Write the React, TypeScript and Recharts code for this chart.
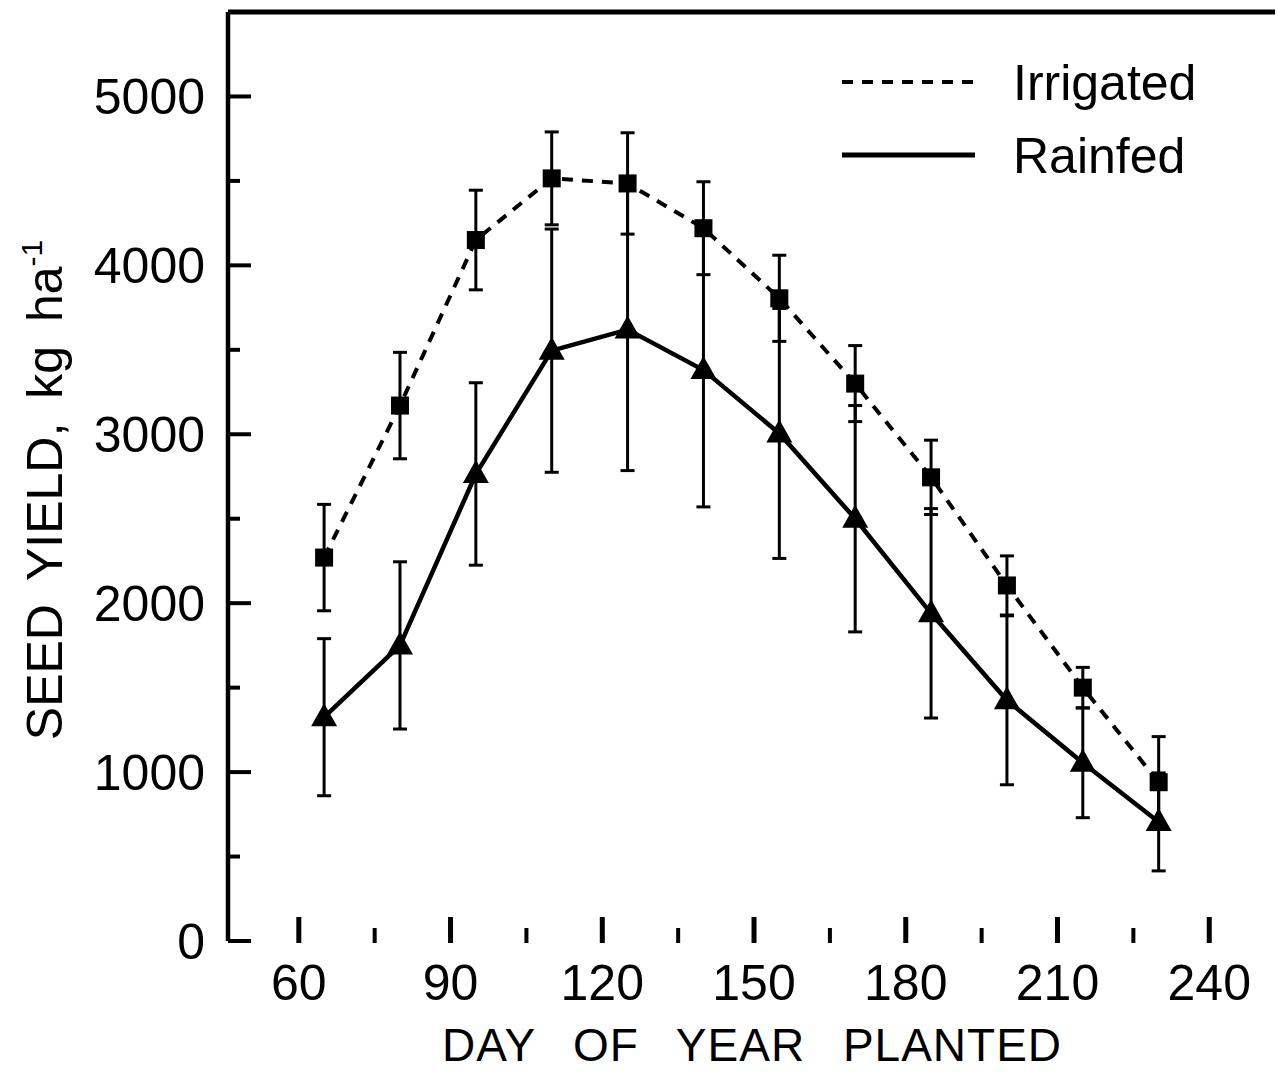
import React from "react";
import {
  LineChart,
  Line,
  XAxis,
  YAxis,
  ErrorBar,
  ReferenceLine,
  Legend,
} from "recharts";

// day of year planted
const days = [65, 80, 95, 110, 125, 140, 155, 170, 185, 200, 215, 230];

// seed yield, kg/ha
const irrigated = [2270, 3170, 4150, 4515, 4485, 4220, 3805, 3300, 2745, 2105, 1500, 940];
const irrigatedErr = [315, 315, 295, 275, 300, 275, 255, 225, 220, 175, 120, 270];
const rainfed = [1325, 1750, 2765, 3495, 3620, 3380, 3005, 2500, 1940, 1425, 1055, 705];
const rainfedErr = [465, 495, 540, 720, 835, 810, 740, 670, 620, 500, 325, 290];

const xMajorTicks = [60, 90, 120, 150, 180, 210, 240];
const xMinorTicks = [75, 105, 135, 165, 195, 225];
const yMajorTicks = [0, 1000, 2000, 3000, 4000, 5000];
const yMinorTicks = [500, 1500, 2500, 3500, 4500];

const font = "'Liberation Sans', Arial, Helvetica, sans-serif";

const data = days.map((day, i) => ({
  day,
  irrigated: irrigated[i],
  irrigatedErr: irrigatedErr[i],
  rainfed: rainfed[i],
  rainfedErr: rainfedErr[i],
}));

const XTick = (props: any) => {
  const { x, y, payload } = props;
  const major = xMajorTicks.includes(payload.value);
  return (
    <g>
      <line
        x1={x}
        x2={x}
        y1={y + 2}
        y2={y - (major ? 24 : 13)}
        stroke="#000"
        strokeWidth={major ? 5 : 4}
      />
      {major && (
        <text x={x} y={y + 59} textAnchor="middle" fontSize={50} fontFamily={font} fill="#000">
          {payload.value}
        </text>
      )}
    </g>
  );
};

const YTick = (props: any) => {
  const { x, y, payload } = props;
  const major = yMajorTicks.includes(payload.value);
  return (
    <g>
      <line x1={x} x2={x + (major ? 23 : 12)} y1={y} y2={y} stroke="#000" strokeWidth={4} />
      {major && (
        <text x={x - 23} y={y + 18} textAnchor="end" fontSize={50} fontFamily={font} fill="#000">
          {payload.value}
        </text>
      )}
    </g>
  );
};

const squareDot = (p: any) => (
  <rect key={"sq" + p.index} x={p.cx - 9} y={p.cy - 9} width={18} height={18} fill="#000" />
);

const triangleDot = (p: any) => (
  <path
    key={"tr" + p.index}
    d={`M${p.cx},${p.cy - 14} L${p.cx - 13},${p.cy + 9} L${p.cx + 13},${p.cy + 9} Z`}
    fill="#000"
  />
);

const LegendBox = () => (
  <svg width={440} height={150}>
    <line x1={12} x2={145} y1={42} y2={42} stroke="#000" strokeWidth={4} strokeDasharray="11 9" />
    <text x={183} y={60} fontSize={50} fontFamily={font} fill="#000">
      Irrigated
    </text>
    <line x1={12} x2={145} y1={115} y2={115} stroke="#000" strokeWidth={5} />
    <text x={183} y={133} fontSize={50} fontFamily={font} fill="#000">
      Rainfed
    </text>
  </svg>
);

export default function App() {
  return (
    <div style={{ position: "absolute", left: 0, top: 0, width: 1278, height: 1072 }}>
      <LineChart
        width={1278}
        height={1072}
        data={data}
        margin={{ top: 12, right: 3, left: 0, bottom: 0 }}
      >
        <XAxis
          dataKey="day"
          type="number"
          domain={[46, 253]}
          ticks={[...xMajorTicks, ...xMinorTicks].sort((a, b) => a - b)}
          interval={0}
          axisLine={false}
          tickLine={false}
          tickSize={0}
          tickMargin={0}
          height={131}
          tick={<XTick />}
          label={{
            content: () => (
              <text
                x={752}
                y={1061}
                textAnchor="middle"
                fontSize={46}
                fontFamily={font}
                fill="#000"
                style={{ wordSpacing: 24, letterSpacing: 1 }}
              >
                DAY OF YEAR PLANTED
              </text>
            ),
          }}
        />
        <YAxis
          type="number"
          domain={[0, 5500]}
          ticks={[...yMajorTicks, ...yMinorTicks].sort((a, b) => a - b)}
          interval={0}
          width={228}
          axisLine={{ stroke: "#000", strokeWidth: 4.5 }}
          tickLine={false}
          tickSize={0}
          tickMargin={0}
          tick={<YTick />}
          label={{
            content: () => (
              <text
                x={62}
                y={490}
                transform="rotate(-90 62 490)"
                textAnchor="middle"
                fontSize={50}
                fontFamily={font}
                fill="#000"
                style={{ wordSpacing: 10 }}
              >
                <tspan>SEED YIELD, kg ha</tspan>
                <tspan fontSize={30} dy={-20}>
                  -1
                </tspan>
              </text>
            ),
          }}
        />
        <ReferenceLine y={5500} stroke="#000" strokeWidth={5} />
        <Legend
          layout="vertical"
          align="center"
          verticalAlign="middle"
          wrapperStyle={{ left: 830, top: 40, width: 440, height: 150 }}
          content={() => <LegendBox />}
        />
        <Line
          dataKey="irrigated"
          type="linear"
          stroke="#000"
          strokeWidth={4}
          strokeDasharray="11 9"
          dot={squareDot}
          activeDot={false}
          isAnimationActive={false}
        >
          <ErrorBar dataKey="irrigatedErr" direction="y" width={7} stroke="#000" strokeWidth={3} />
        </Line>
        <Line
          dataKey="rainfed"
          type="linear"
          stroke="#000"
          strokeWidth={4.5}
          dot={triangleDot}
          activeDot={false}
          isAnimationActive={false}
        >
          <ErrorBar dataKey="rainfedErr" direction="y" width={7} stroke="#000" strokeWidth={3} />
        </Line>
      </LineChart>
    </div>
  );
}
